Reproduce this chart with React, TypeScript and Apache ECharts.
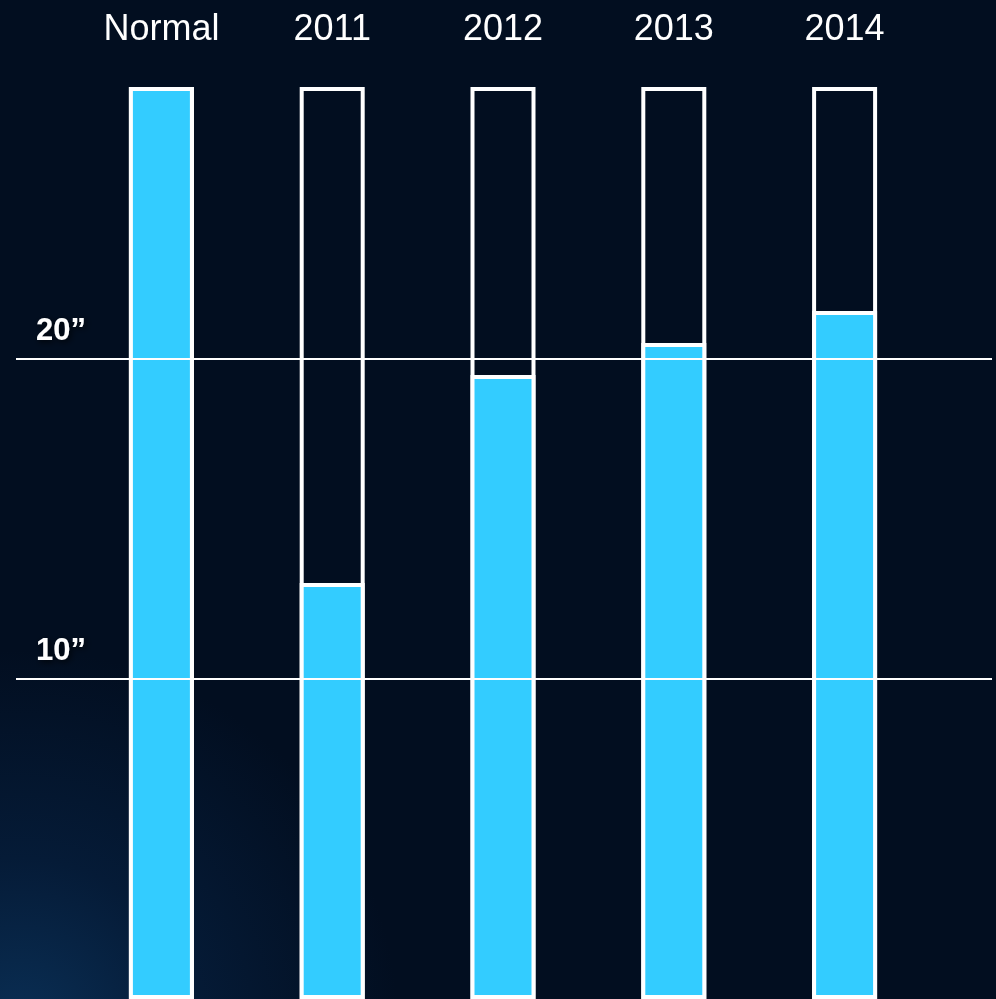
import React, { useEffect, useRef } from "react";
import * as echarts from "echarts";

const categories = ["Normal", "2011", "2012", "2013", "2014"];
const capacityValues = [28.5, 28.5, 28.5, 28.5, 28.5];
const filledValues = [28.5, 13, 19.5, 20.5, 21.5];
const yMax = 28.5;
const yInterval = 10;

const FONT = "'Liberation Sans', Arial, sans-serif";

export default function App() {
  const ref = useRef<HTMLDivElement>(null);
  useEffect(() => {
    if (!ref.current) return;
    const chart = echarts.init(ref.current, null, { renderer: "svg" });
    chart.setOption({
      animation: false,
      backgroundColor: {
        type: "radial",
        x: 0.02,
        y: 1.03,
        r: 0.38,
        colorStops: [
          { offset: 0, color: "#0a2f55" },
          { offset: 0.45, color: "#051b37" },
          { offset: 1, color: "#020e20" },
        ],
      },
      grid: [
        { left: 76, right: 66, top: 87, bottom: 0 },
        { left: 16, right: 4, top: 87, bottom: 0 },
      ],
      xAxis: [
        {
          type: "category",
          gridIndex: 0,
          data: categories,
          position: "top",
          axisLine: { show: false },
          axisTick: { show: false },
          axisLabel: {
            color: "#ffffff",
            fontSize: 36,
            fontFamily: FONT,
            margin: 42,
          },
        },
        {
          type: "category",
          gridIndex: 1,
          data: [""],
          show: false,
        },
      ],
      yAxis: [
        {
          type: "value",
          gridIndex: 0,
          min: 0,
          max: yMax,
          interval: yInterval,
          show: false,
          splitLine: { show: false },
        },
        {
          type: "value",
          gridIndex: 1,
          min: 0,
          max: yMax,
          interval: yInterval,
          z: 10,
          axisLine: { show: false },
          axisTick: { show: false },
          splitLine: {
            show: true,
            showMinLine: false,
            showMaxLine: false,
            lineStyle: { color: "#ffffff", width: 2 },
          },
          axisLabel: {
            inside: true,
            margin: 20,
            showMinLabel: false,
            showMaxLabel: false,
            color: "#ffffff",
            fontSize: 31,
            fontWeight: "bold",
            fontFamily: FONT,
            verticalAlign: "bottom",
            padding: [0, 0, 14, 0],
            textShadowColor: "rgba(0,0,0,0.8)",
            textShadowBlur: 6,
            textShadowOffsetX: 2,
            textShadowOffsetY: 2,
            formatter: (v: number) =>
              v === 0 || v === yMax ? "" : `${v}\u201D`,
          },
        },
      ],
      series: [
        {
          type: "bar",
          xAxisIndex: 0,
          yAxisIndex: 0,
          data: capacityValues,
          barWidth: 65,
          barGap: "-100%",
          itemStyle: {
            color: "rgba(0,0,0,0)",
            borderColor: "#ffffff",
            borderWidth: 4,
          },
          z: 3,
        },
        {
          type: "bar",
          xAxisIndex: 0,
          yAxisIndex: 0,
          data: filledValues,
          barWidth: 65,
          barGap: "-100%",
          itemStyle: {
            color: "#33ccff",
            borderColor: "#ffffff",
            borderWidth: 4,
          },
          z: 4,
        },
      ],
    });
    return () => chart.dispose();
  }, []);
  return (
    <div
      ref={ref}
      style={{ position: "fixed", left: 0, top: 0, width: 996, height: 999 }}
    />
  );
}
